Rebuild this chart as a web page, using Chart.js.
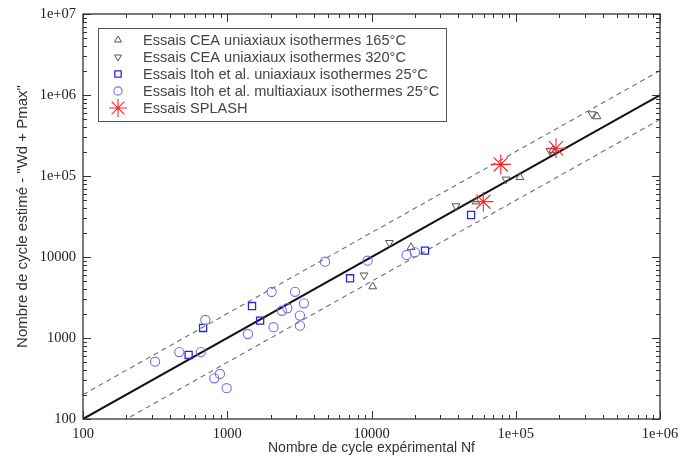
<!DOCTYPE html>
<html><head><meta charset="utf-8">
<script src="https://cdn.jsdelivr.net/npm/chart.js@4.4.1/dist/chart.umd.min.js"></script>
<style>html,body{margin:0;padding:0;background:#fff;overflow:hidden}#wrap{width:681px;height:459px;position:relative}</style>
</head><body><div id="wrap"><canvas id="c" width="681" height="459"></canvas></div>
<script>
// ---- data ----
const xTickLabels = ['100', '1000', '10000', '1e+05', '1e+06'];
const yTickLabels = ['100', '1000', '10000', '1e+05', '1e+06', '1e+07'];
const xTitle = 'Nombre de cycle expérimental Nf';
const yTitle = 'Nombre de cycle estimé - "Wd + Pmax"';
const seriesLabels = [
  'Essais CEA uniaxiaux isothermes 165°C',
  'Essais CEA uniaxiaux isothermes 320°C',
  'Essais Itoh et al. uniaxiaux isothermes 25°C',
  'Essais Itoh et al. multiaxiaux isothermes 25°C',
  'Essais SPLASH'
];
const cea165X = [10200, 18800, 53000, 107000, 181000, 366000];
const cea165Y = [4320, 13200, 48200, 96400, 209000, 543000];
const cea320X = [8870, 13300, 38500, 85500, 173000, 338000];
const cea320Y = [5950, 15000, 42600, 91000, 204000, 582000];
const itohUniX = [540, 680, 1485, 1690, 7100, 23500, 49000];
const itohUniY = [617, 1330, 2480, 1640, 5460, 12000, 33000];
const itohMultiX = [316, 465, 655, 705, 813, 890, 990, 1390, 2090, 2030, 2950, 3400, 2390, 2610, 3190, 3190, 4760, 9400, 17500, 20000];
const itohMultiY = [510, 670, 670, 1670, 318, 360, 240, 1120, 1360, 3700, 3720, 2680, 2170, 2330, 1890, 1420, 8750, 9000, 10600, 11400];
const splashX = [59600, 78700, 190000];
const splashY = [48200, 139000, 220000];
const refX = [100, 1000000];      // reference lines y = k * x
const refFactors = [1, 2, 0.5];

// ---- build ----
const pts = (xs, ys) => xs.map((x, i) => ({x: x, y: ys[i]}));
const refLine = k => refX.map(x => ({x: x, y: x * k}));

const styles = [
  {pointStyle: 'triangle', rotation: 0, radius: 4.5, color: 'rgb(85,85,85)', bw: 1},
  {pointStyle: 'triangle', rotation: 180, radius: 4.5, color: 'rgb(85,85,85)', bw: 1},
  {pointStyle: 'rect', rotation: 0, radius: 5, color: 'rgb(40,40,215)', bw: 1.3},
  {pointStyle: 'circle', rotation: 0, radius: 4.6, color: 'rgb(112,112,238)', bw: 1.1},
  {pointStyle: 'star', rotation: 0, radius: 10, color: 'rgb(255,35,35)', bw: 1.1}
];
const seriesData = [pts(cea165X, cea165Y), pts(cea320X, cea320Y), pts(itohUniX, itohUniY), pts(itohMultiX, itohMultiY), pts(splashX, splashY)];

const datasets = [
  {type: 'line', data: refLine(refFactors[1]), borderColor: 'rgb(110,110,110)', borderWidth: 1.1, borderDash: [5, 4], pointRadius: 0, fill: false, showLine: true, order: 10},
  {type: 'line', data: refLine(refFactors[2]), borderColor: 'rgb(110,110,110)', borderWidth: 1.1, borderDash: [5, 4], pointRadius: 0, fill: false, showLine: true, order: 10},
  {type: 'line', data: refLine(refFactors[0]), borderColor: '#111', borderWidth: 2, pointRadius: 0, fill: false, showLine: true, order: 9}
];
seriesData.forEach((d, i) => {
  const s = styles[i];
  datasets.push({
    type: 'scatter', label: seriesLabels[i], data: d,
    pointStyle: s.pointStyle, rotation: s.rotation, pointRadius: s.radius, pointHoverRadius: s.radius,
    borderColor: s.color, backgroundColor: 'rgba(0,0,0,0)', pointBorderWidth: s.bw, borderWidth: s.bw, order: 5 - i
  });
});

const isDecade = v => { const e = Math.log10(v); return Math.abs(e - Math.round(e)) < 1e-6; };

const framePlugin = {
  id: 'frameTicks',
  afterDatasetsDraw(chart) {
    const ctx = chart.ctx, a = chart.chartArea, xs = chart.scales.x, ys = chart.scales.y;
    ctx.save();
    ctx.strokeStyle = '#333';
    ctx.lineWidth = 1.3;
    ctx.strokeRect(a.left, a.top, a.right - a.left, a.bottom - a.top);
    ctx.lineWidth = 1;
    const tickVals = (min, max) => {
      const out = [];
      for (let e = Math.floor(Math.log10(min)); e <= Math.ceil(Math.log10(max)); e++) {
        for (let m = 1; m <= 9; m++) { const v = m * Math.pow(10, e); if (v >= min * 0.999 && v <= max * 1.001) out.push({v: v, major: m === 1}); }
      }
      return out;
    };
    ctx.beginPath();
    tickVals(xs.min, xs.max).forEach(t => {
      const px = Math.round(xs.getPixelForValue(t.v)) + 0.5, L = t.major ? 8 : 4;
      ctx.moveTo(px, a.bottom); ctx.lineTo(px, a.bottom - L);
      ctx.moveTo(px, a.top); ctx.lineTo(px, a.top + L);
    });
    tickVals(ys.min, ys.max).forEach(t => {
      const py = Math.round(ys.getPixelForValue(t.v)) + 0.5, L = t.major ? 8 : 4;
      ctx.moveTo(a.left, py); ctx.lineTo(a.left + L, py);
      ctx.moveTo(a.right, py); ctx.lineTo(a.right - L, py);
    });
    ctx.stroke();
    ctx.restore();
  },
  afterDraw(chart) {
    const ctx = chart.ctx;
    const bx = 98.5, by = 28.5, bw = 348, bh = 93;
    ctx.save();
    ctx.fillStyle = '#fff';
    ctx.fillRect(bx, by, bw, bh);
    ctx.strokeStyle = '#555';
    ctx.lineWidth = 1;
    ctx.strokeRect(bx, by, bw, bh);
    ctx.font = '14.6px "Liberation Sans", Arial, sans-serif';
    ctx.textBaseline = 'middle';
    seriesLabels.forEach((lab, i) => {
      const s = styles[i];
      const y = 40 + i * 17;
      ctx.strokeStyle = s.color;
      ctx.fillStyle = 'rgba(0,0,0,0)';
      ctx.lineWidth = s.bw;
      Chart.helpers.drawPoint(ctx, {pointStyle: s.pointStyle, rotation: s.rotation, radius: i === 4 ? 9 : s.radius * 0.9, borderWidth: s.bw}, 118, y);
      ctx.fillStyle = '#444';
      ctx.fillText(lab, 143, y + 0.5);
    });
    ctx.restore();
  }
};

new Chart(document.getElementById('c'), {
  type: 'scatter',
  data: {datasets: datasets},
  options: {
    responsive: false, animation: false, devicePixelRatio: 1,
    layout: {padding: {left: 8, top: 14, right: 21, bottom: 0}},
    plugins: {legend: {display: false}, tooltip: {enabled: false}},
    scales: {
      x: {
        type: 'logarithmic', min: 100, max: 1000000,
        grid: {display: false, drawTicks: false}, border: {display: false},
        ticks: {autoSkip: false, maxRotation: 0, padding: 6, color: '#222', font: {family: '"Liberation Serif", "Times New Roman", serif', size: 14.5},
          callback: v => isDecade(v) ? xTickLabels[Math.round(Math.log10(v)) - 2] : ''},
        title: {display: true, text: xTitle, color: '#333', font: {family: '"Liberation Sans", Arial, sans-serif', size: 14}, padding: {top: 0, bottom: 2}},
        afterFit: s => { s.height = 40; s.paddingLeft = 0; s.paddingRight = 0; }
      },
      y: {
        type: 'logarithmic', min: 100, max: 10000000,
        grid: {display: false, drawTicks: false}, border: {display: false},
        ticks: {autoSkip: false, padding: 7, color: '#222', font: {family: '"Liberation Serif", "Times New Roman", serif', size: 14.5},
          callback: v => isDecade(v) ? yTickLabels[Math.round(Math.log10(v)) - 2] : ''},
        title: {display: true, text: yTitle, color: '#333', font: {family: '"Liberation Sans", Arial, sans-serif', size: 15}, padding: {top: 6, bottom: 0}},
        afterFit: s => { s.width = 75; s.paddingTop = 0; s.paddingBottom = 0; }
      }
    }
  },
  plugins: [framePlugin]
});
</script></body></html>
